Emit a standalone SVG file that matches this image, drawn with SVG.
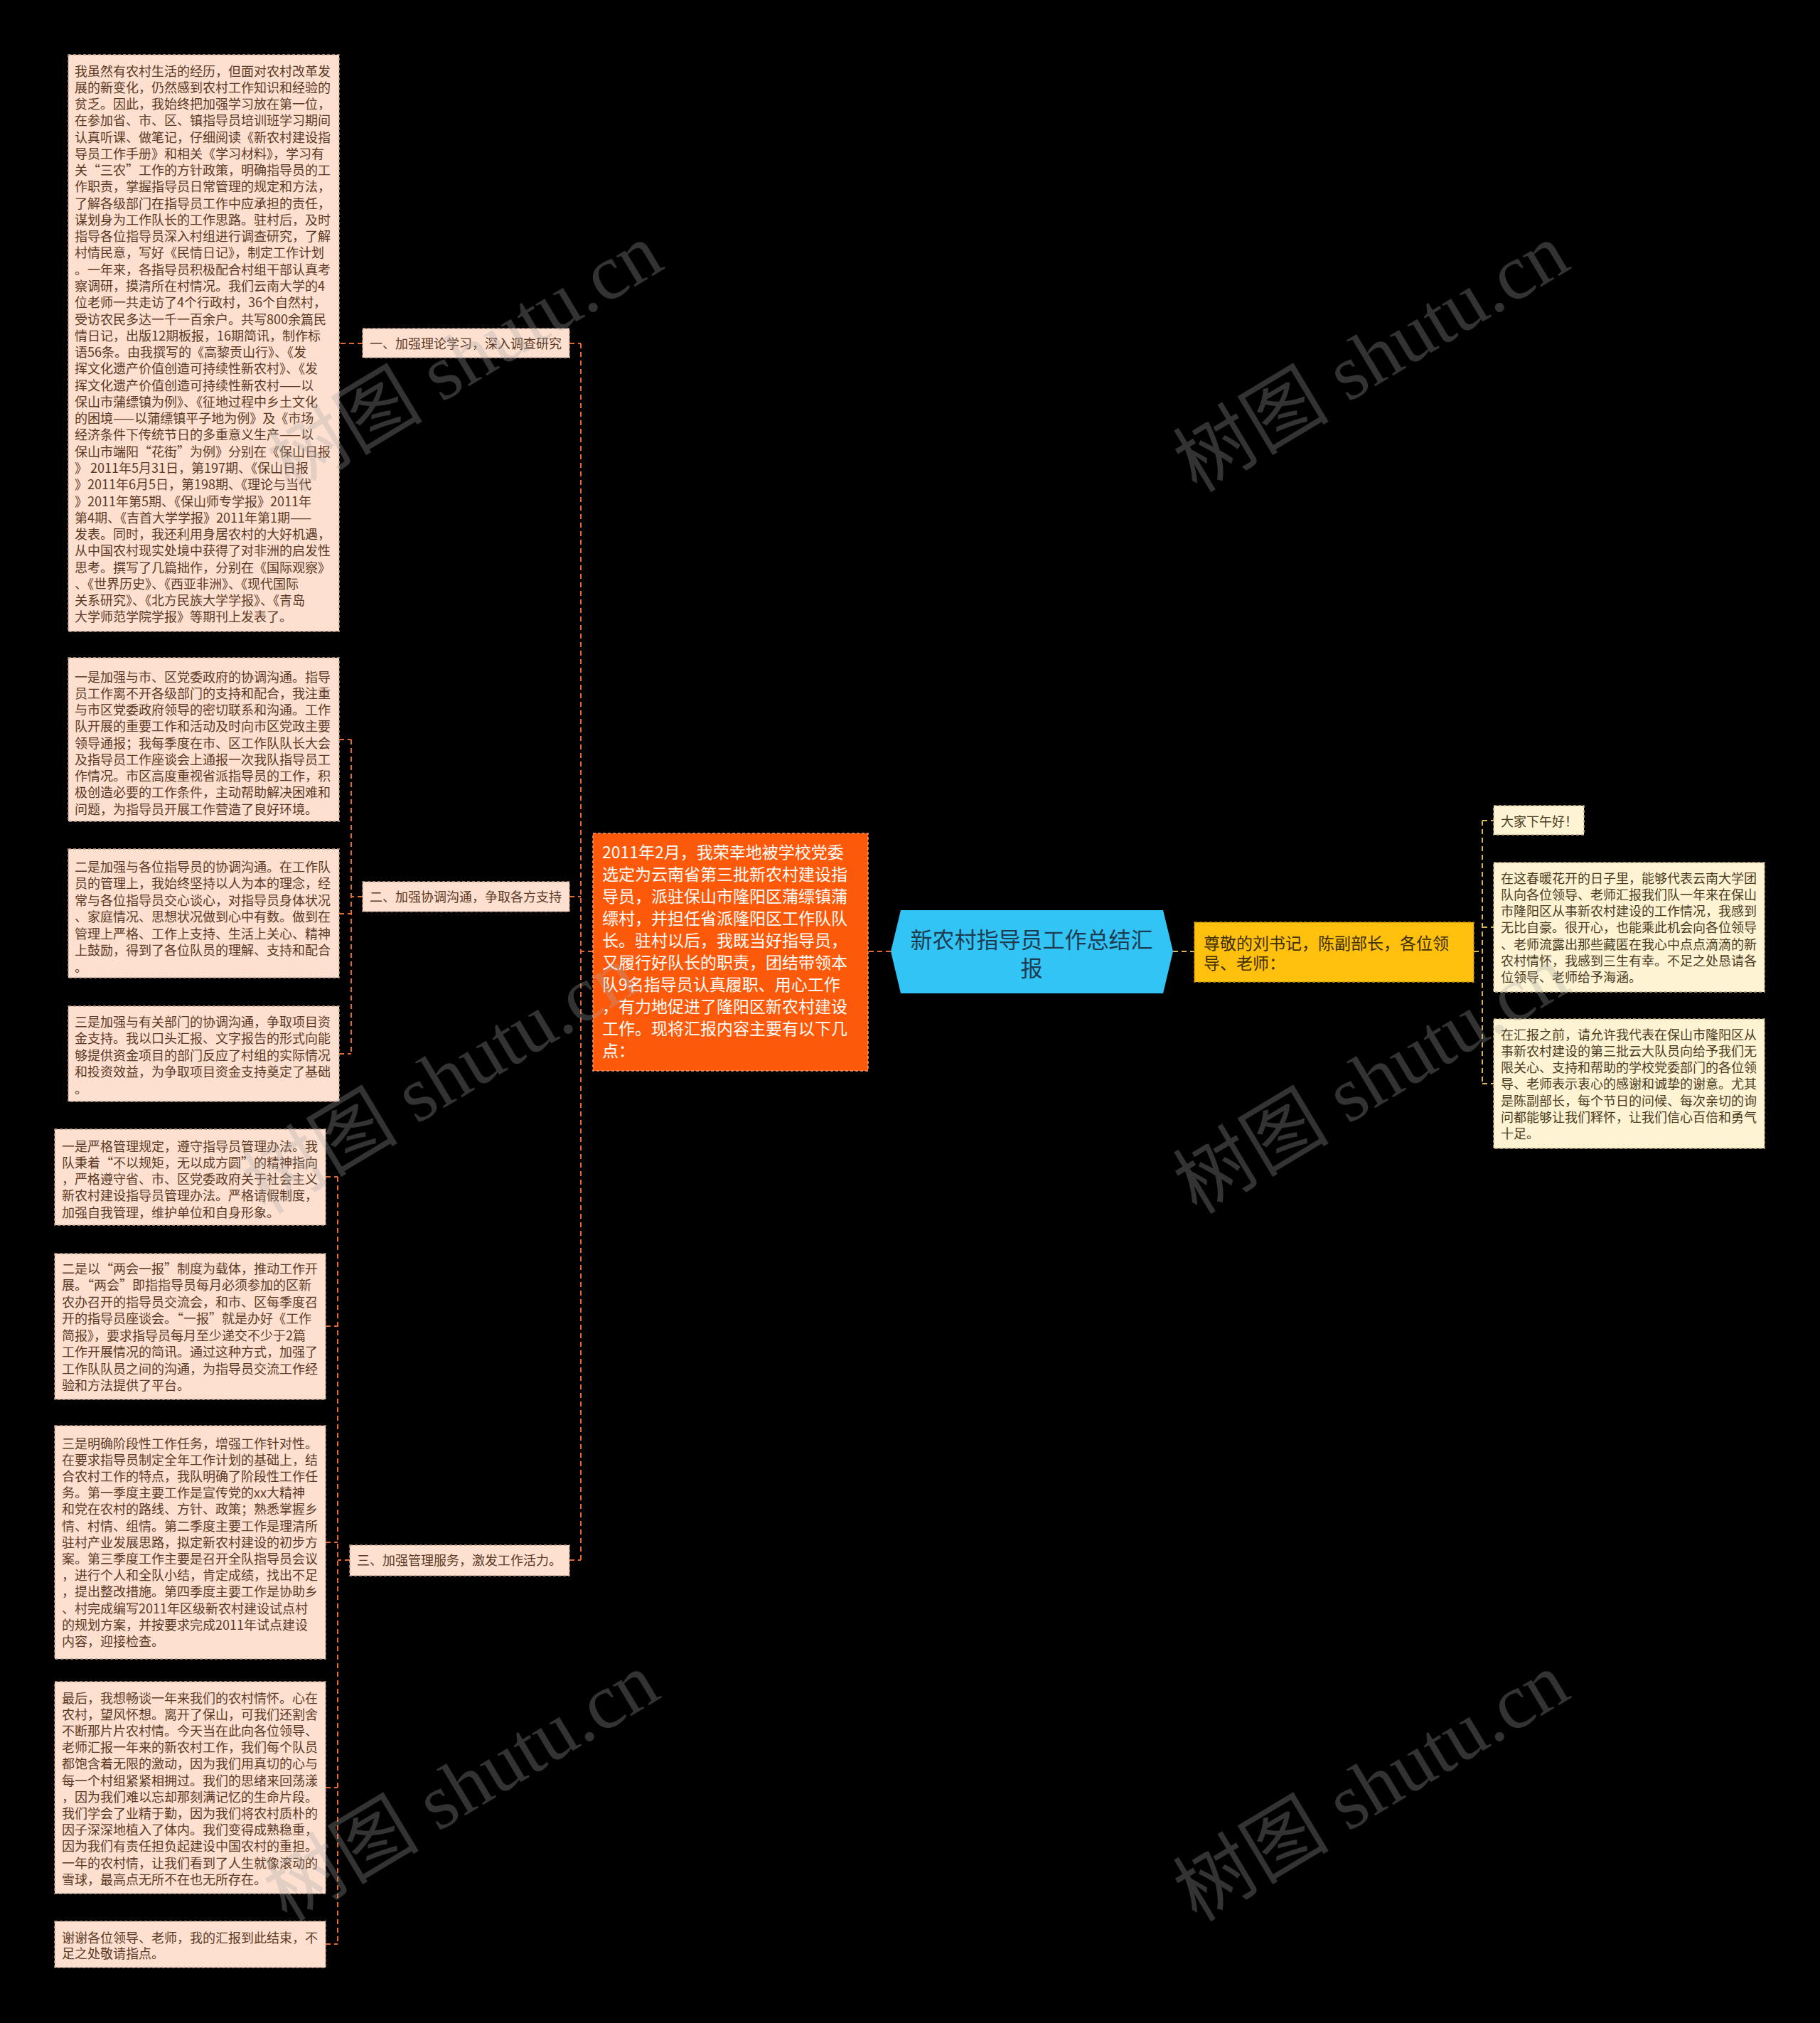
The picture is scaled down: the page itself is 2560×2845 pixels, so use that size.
<svg xmlns="http://www.w3.org/2000/svg" width="2560" height="2845" viewBox="0 0 2560 2845">
<style>
.bg{fill:#000}
.bl{fill:#FDE0CF;stroke:#C4A190;stroke-width:1.5;stroke-dasharray:4 3}
.br{fill:#FEF3D3;stroke:#C8B184;stroke-width:1.5;stroke-dasharray:4 3}
.t{font-family:"Noto Sans CJK SC","Noto Sans",sans-serif;font-size:18px;fill:#5C3A26}
.tr{font-family:"Noto Sans CJK SC","Noto Sans",sans-serif;font-size:18px;fill:#4A3B22}
.cl{fill:none;stroke:#E8692F;stroke-width:2;stroke-dasharray:7 5}
.cr{fill:none;stroke:#D6B65A;stroke-width:2;stroke-dasharray:7 5}
.wm{font-family:"Liberation Serif","Noto Sans CJK SC",serif;font-size:110px;fill:#A8A8A8;opacity:0.3}
</style>
<rect class="bg" x="0" y="0" width="2560" height="2845"/>

<g id="connectors">
  <!-- center to orange -->
  <path class="cl" d="M1253,1338 H1221"/>
  <!-- left trunk -->
  <path class="cl" d="M834,1338 H817 M817,483 V2194 M801,483 H817 M801,1261 H817 M801,2194 H817"/>
  <!-- label 1 to block 1 -->
  <path class="cl" d="M510,483 H477"/>
  <!-- label 2 group -->
  <path class="cl" d="M510,1261 H494 M494,1040 V1482 M477,1040 H494 M477,1285 H494 M477,1482 H494"/>
  <!-- label 3 group -->
  <path class="cl" d="M492,2194 H475 M475,1655 V2734 M458,1655 H475 M458,1865 H475 M458,2169 H475 M458,2514 H475 M458,2734 H475"/>
  <!-- right side -->
  <path class="cr" d="M1650,1338 H1680"/>
  <path class="cr" d="M2073,1338 H2085 M2085,1154 V1524 M2085,1154 H2101 M2085,1304 H2101 M2085,1524 H2101"/>
</g>

<g id="center">
  <polygon points="1253,1338 1267,1280 1636,1280 1650,1338 1636,1397 1267,1397" fill="#31C4F4"/>
  <text x="1451" y="1333" text-anchor="middle" font-family="'Noto Sans CJK SC','Noto Sans',sans-serif" font-size="31" fill="#1E3B4F">新农村指导员工作总结汇</text>
  <text x="1451" y="1373" text-anchor="middle" font-family="'Noto Sans CJK SC','Noto Sans',sans-serif" font-size="31" fill="#1E3B4F">报</text>
</g>

<g id="intro">
  <rect x="834" y="1172" width="387" height="334" fill="#FC5A0A" stroke="#FF9C66" stroke-width="1.5" stroke-dasharray="4 3"/>
  <text font-family="'Noto Sans CJK SC','Noto Sans',sans-serif" font-size="23" fill="#FFFFFF">
    <tspan x="847" y="1207">2011年2月，我荣幸地被学校党委</tspan>
    <tspan x="847" dy="31">选定为云南省第三批新农村建设指</tspan>
    <tspan x="847" dy="31">导员，派驻保山市隆阳区蒲缥镇蒲</tspan>
    <tspan x="847" dy="31">缥村，并担任省派隆阳区工作队队</tspan>
    <tspan x="847" dy="31">长。驻村以后，我既当好指导员，</tspan>
    <tspan x="847" dy="31">又履行好队长的职责，团结带领本</tspan>
    <tspan x="847" dy="31">队9名指导员认真履职、用心工作</tspan>
    <tspan x="847" dy="31">，有力地促进了隆阳区新农村建设</tspan>
    <tspan x="847" dy="31">工作。现将汇报内容主要有以下几</tspan>
    <tspan x="847" dy="31">点：</tspan>
  </text>
</g>

<g id="greeting-main">
  <rect x="1680" y="1297" width="393" height="84" fill="#FFC10E" stroke="#C99500" stroke-width="1.5" stroke-dasharray="4 3"/>
  <text font-family="'Noto Sans CJK SC','Noto Sans',sans-serif" font-size="23" fill="#3D2E05">
    <tspan x="1693" y="1335">尊敬的刘书记，陈副部长，各位领</tspan>
    <tspan x="1693" dy="28">导、老师：</tspan>
  </text>
</g>

<g id="label1">
  <rect class="bl" x="510" y="462" width="291" height="41"/>
  <text class="t" x="520" y="489.5">一、加强理论学习，深入调查研究</text>
</g>
<g id="label2">
  <rect class="bl" x="510" y="1240" width="291" height="42"/>
  <text class="t" x="520" y="1267.5">二、加强协调沟通，争取各方支持</text>
</g>
<g id="label3">
  <rect class="bl" x="492" y="2173" width="309" height="43"/>
  <text class="t" x="502" y="2200.5">三、加强管理服务，激发工作活力。</text>
</g>

<g id="block1">
  <rect class="bl" x="96" y="77" width="381" height="811"/>
  <text class="t">
    <tspan x="105" y="106.5">我虽然有农村生活的经历，但面对农村改革发</tspan>
    <tspan x="105" dy="23.27">展的新变化，仍然感到农村工作知识和经验的</tspan>
    <tspan x="105" dy="23.27">贫乏。因此，我始终把加强学习放在第一位，</tspan>
    <tspan x="105" dy="23.27">在参加省、市、区、镇指导员培训班学习期间</tspan>
    <tspan x="105" dy="23.27">认真听课、做笔记，仔细阅读《新农村建设指</tspan>
    <tspan x="105" dy="23.27">导员工作手册》和相关《学习材料》，学习有</tspan>
    <tspan x="105" dy="23.27">关“三农”工作的方针政策，明确指导员的工</tspan>
    <tspan x="105" dy="23.27">作职责，掌握指导员日常管理的规定和方法，</tspan>
    <tspan x="105" dy="23.27">了解各级部门在指导员工作中应承担的责任，</tspan>
    <tspan x="105" dy="23.27">谋划身为工作队长的工作思路。驻村后，及时</tspan>
    <tspan x="105" dy="23.27">指导各位指导员深入村组进行调查研究，了解</tspan>
    <tspan x="105" dy="23.27">村情民意，写好《民情日记》，制定工作计划</tspan>
    <tspan x="105" dy="23.27">。一年来，各指导员积极配合村组干部认真考</tspan>
    <tspan x="105" dy="23.27">察调研，摸清所在村情况。我们云南大学的4</tspan>
    <tspan x="105" dy="23.27">位老师一共走访了4个行政村，36个自然村，</tspan>
    <tspan x="105" dy="23.27">受访农民多达一千一百余户。共写800余篇民</tspan>
    <tspan x="105" dy="23.27">情日记，出版12期板报，16期简讯，制作标</tspan>
    <tspan x="105" dy="23.27">语56条。由我撰写的《高黎贡山行》、《发</tspan>
    <tspan x="105" dy="23.27">挥文化遗产价值创造可持续性新农村》、《发</tspan>
    <tspan x="105" dy="23.27">挥文化遗产价值创造可持续性新农村——以</tspan>
    <tspan x="105" dy="23.27">保山市蒲缥镇为例》、《征地过程中乡土文化</tspan>
    <tspan x="105" dy="23.27">的困境——以蒲缥镇平子地为例》及《市场</tspan>
    <tspan x="105" dy="23.27">经济条件下传统节日的多重意义生产——以</tspan>
    <tspan x="105" dy="23.27">保山市端阳“花街”为例》分别在《保山日报</tspan>
    <tspan x="105" dy="23.27">》 2011年5月31日，第197期、《保山日报</tspan>
    <tspan x="105" dy="23.27">》2011年6月5日，第198期、《理论与当代</tspan>
    <tspan x="105" dy="23.27">》2011年第5期、《保山师专学报》2011年</tspan>
    <tspan x="105" dy="23.27">第4期、《吉首大学学报》2011年第1期——</tspan>
    <tspan x="105" dy="23.27">发表。同时，我还利用身居农村的大好机遇，</tspan>
    <tspan x="105" dy="23.27">从中国农村现实处境中获得了对非洲的启发性</tspan>
    <tspan x="105" dy="23.27">思考。撰写了几篇拙作，分别在《国际观察》</tspan>
    <tspan x="105" dy="23.27">、《世界历史》、《西亚非洲》、《现代国际</tspan>
    <tspan x="105" dy="23.27">关系研究》、《北方民族大学学报》、《青岛</tspan>
    <tspan x="105" dy="23.27">大学师范学院学报》等期刊上发表了。</tspan>
  </text>
</g>

<g id="block2">
  <rect class="bl" x="96" y="925" width="381" height="230"/>
  <text class="t">
    <tspan x="105" y="958.5">一是加强与市、区党委政府的协调沟通。指导</tspan>
    <tspan x="105" dy="23.25">员工作离不开各级部门的支持和配合，我注重</tspan>
    <tspan x="105" dy="23.25">与市区党委政府领导的密切联系和沟通。工作</tspan>
    <tspan x="105" dy="23.25">队开展的重要工作和活动及时向市区党政主要</tspan>
    <tspan x="105" dy="23.25">领导通报；我每季度在市、区工作队队长大会</tspan>
    <tspan x="105" dy="23.25">及指导员工作座谈会上通报一次我队指导员工</tspan>
    <tspan x="105" dy="23.25">作情况。市区高度重视省派指导员的工作，积</tspan>
    <tspan x="105" dy="23.25">极创造必要的工作条件，主动帮助解决困难和</tspan>
    <tspan x="105" dy="23.25">问题，为指导员开展工作营造了良好环境。</tspan>
  </text>
</g>

<g id="block3">
  <rect class="bl" x="96" y="1194" width="381" height="181"/>
  <text class="t">
    <tspan x="105" y="1225.5">二是加强与各位指导员的协调沟通。在工作队</tspan>
    <tspan x="105" dy="23.5">员的管理上，我始终坚持以人为本的理念，经</tspan>
    <tspan x="105" dy="23.5">常与各位指导员交心谈心，对指导员身体状况</tspan>
    <tspan x="105" dy="23.5">、家庭情况、思想状况做到心中有数。做到在</tspan>
    <tspan x="105" dy="23.5">管理上严格、工作上支持、生活上关心、精神</tspan>
    <tspan x="105" dy="23.5">上鼓励，得到了各位队员的理解、支持和配合</tspan>
    <tspan x="105" dy="23.5">。</tspan>
  </text>
</g>

<g id="block4">
  <rect class="bl" x="96" y="1415" width="381" height="134"/>
  <text class="t">
    <tspan x="105" y="1443.5">三是加强与有关部门的协调沟通，争取项目资</tspan>
    <tspan x="105" dy="23.5">金支持。我以口头汇报、文字报告的形式向能</tspan>
    <tspan x="105" dy="23.5">够提供资金项目的部门反应了村组的实际情况</tspan>
    <tspan x="105" dy="23.5">和投资效益，为争取项目资金支持奠定了基础</tspan>
    <tspan x="105" dy="23.5">。</tspan>
  </text>
</g>

<g id="block5">
  <rect class="bl" x="77" y="1588" width="381" height="135"/>
  <text class="t">
    <tspan x="87" y="1618.5">一是严格管理规定，遵守指导员管理办法。我</tspan>
    <tspan x="87" dy="23.3">队秉着“不以规矩，无以成方圆”的精神指向</tspan>
    <tspan x="87" dy="23.3">，严格遵守省、市、区党委政府关于社会主义</tspan>
    <tspan x="87" dy="23.3">新农村建设指导员管理办法。严格请假制度，</tspan>
    <tspan x="87" dy="23.3">加强自我管理，维护单位和自身形象。</tspan>
  </text>
</g>

<g id="block6">
  <rect class="bl" x="77" y="1763" width="381" height="205"/>
  <text class="t">
    <tspan x="87" y="1790.5">二是以“两会一报”制度为载体，推动工作开</tspan>
    <tspan x="87" dy="23.5">展。“两会”即指指导员每月必须参加的区新</tspan>
    <tspan x="87" dy="23.5">农办召开的指导员交流会，和市、区每季度召</tspan>
    <tspan x="87" dy="23.5">开的指导员座谈会。“一报”就是办好《工作</tspan>
    <tspan x="87" dy="23.5">简报》，要求指导员每月至少递交不少于2篇</tspan>
    <tspan x="87" dy="23.5">工作开展情况的简讯。通过这种方式，加强了</tspan>
    <tspan x="87" dy="23.5">工作队队员之间的沟通，为指导员交流工作经</tspan>
    <tspan x="87" dy="23.5">验和方法提供了平台。</tspan>
  </text>
</g>

<g id="block7">
  <rect class="bl" x="77" y="2005" width="381" height="328"/>
  <text class="t">
    <tspan x="87" y="2036.5">三是明确阶段性工作任务，增强工作针对性。</tspan>
    <tspan x="87" dy="23.2">在要求指导员制定全年工作计划的基础上，结</tspan>
    <tspan x="87" dy="23.2">合农村工作的特点，我队明确了阶段性工作任</tspan>
    <tspan x="87" dy="23.2">务。第一季度主要工作是宣传党的xx大精神</tspan>
    <tspan x="87" dy="23.2">和党在农村的路线、方针、政策；熟悉掌握乡</tspan>
    <tspan x="87" dy="23.2">情、村情、组情。第二季度主要工作是理清所</tspan>
    <tspan x="87" dy="23.2">驻村产业发展思路，拟定新农村建设的初步方</tspan>
    <tspan x="87" dy="23.2">案。第三季度工作主要是召开全队指导员会议</tspan>
    <tspan x="87" dy="23.2">，进行个人和全队小结，肯定成绩，找出不足</tspan>
    <tspan x="87" dy="23.2">，提出整改措施。第四季度主要工作是协助乡</tspan>
    <tspan x="87" dy="23.2">、村完成编写2011年区级新农村建设试点村</tspan>
    <tspan x="87" dy="23.2">的规划方案，并按要求完成2011年试点建设</tspan>
    <tspan x="87" dy="23.2">内容，迎接检查。</tspan>
  </text>
</g>

<g id="block8">
  <rect class="bl" x="77" y="2365" width="381" height="298"/>
  <text class="t">
    <tspan x="87" y="2394.5">最后，我想畅谈一年来我们的农村情怀。心在</tspan>
    <tspan x="87" dy="23.2">农村，望风怀想。离开了保山，可我们还割舍</tspan>
    <tspan x="87" dy="23.2">不断那片片农村情。今天当在此向各位领导、</tspan>
    <tspan x="87" dy="23.2">老师汇报一年来的新农村工作，我们每个队员</tspan>
    <tspan x="87" dy="23.2">都饱含着无限的激动，因为我们用真切的心与</tspan>
    <tspan x="87" dy="23.2">每一个村组紧紧相拥过。我们的思绪来回荡漾</tspan>
    <tspan x="87" dy="23.2">，因为我们难以忘却那刻满记忆的生命片段。</tspan>
    <tspan x="87" dy="23.2">我们学会了业精于勤，因为我们将农村质朴的</tspan>
    <tspan x="87" dy="23.2">因子深深地植入了体内。我们变得成熟稳重，</tspan>
    <tspan x="87" dy="23.2">因为我们有责任担负起建设中国农村的重担。</tspan>
    <tspan x="87" dy="23.2">一年的农村情，让我们看到了人生就像滚动的</tspan>
    <tspan x="87" dy="23.2">雪球，最高点无所不在也无所存在。</tspan>
  </text>
</g>

<g id="block9">
  <rect class="bl" x="77" y="2702" width="381" height="65"/>
  <text class="t">
    <tspan x="87" y="2731.5">谢谢各位领导、老师，我的汇报到此结束，不</tspan>
    <tspan x="87" dy="22.5">足之处敬请指点。</tspan>
  </text>
</g>

<g id="right1">
  <rect class="br" x="2101" y="1133" width="127" height="41"/>
  <text class="tr" x="2111" y="1161.5">大家下午好！</text>
</g>

<g id="right2">
  <rect class="br" x="2101" y="1213" width="381" height="182"/>
  <text class="tr">
    <tspan x="2111" y="1241.5">在这春暖花开的日子里，能够代表云南大学团</tspan>
    <tspan x="2111" dy="23.3">队向各位领导、老师汇报我们队一年来在保山</tspan>
    <tspan x="2111" dy="23.3">市隆阳区从事新农村建设的工作情况，我感到</tspan>
    <tspan x="2111" dy="23.3">无比自豪。很开心，也能乘此机会向各位领导</tspan>
    <tspan x="2111" dy="23.3">、老师流露出那些藏匿在我心中点点滴滴的新</tspan>
    <tspan x="2111" dy="23.3">农村情怀，我感到三生有幸。不足之处恳请各</tspan>
    <tspan x="2111" dy="23.3">位领导、老师给予海涵。</tspan>
  </text>
</g>

<g id="right3">
  <rect class="br" x="2101" y="1433" width="381" height="182"/>
  <text class="tr">
    <tspan x="2111" y="1461.5">在汇报之前，请允许我代表在保山市隆阳区从</tspan>
    <tspan x="2111" dy="23.3">事新农村建设的第三批云大队员向给予我们无</tspan>
    <tspan x="2111" dy="23.3">限关心、支持和帮助的学校党委部门的各位领</tspan>
    <tspan x="2111" dy="23.3">导、老师表示衷心的感谢和诚挚的谢意。尤其</tspan>
    <tspan x="2111" dy="23.3">是陈副部长，每个节日的问候、每次亲切的询</tspan>
    <tspan x="2111" dy="23.3">问都能够让我们释怀，让我们信心百倍和勇气</tspan>
    <tspan x="2111" dy="23.3">十足。</tspan>
  </text>
</g>

<g id="watermarks">
  <text class="wm" x="655" y="540" text-anchor="middle" transform="rotate(-31 655 505)">树图 shutu.cn</text>
  <text class="wm" x="1930" y="540" text-anchor="middle" transform="rotate(-31 1930 505)">树图 shutu.cn</text>
  <text class="wm" x="620" y="1555" text-anchor="middle" transform="rotate(-31 620 1520)">树图 shutu.cn</text>
  <text class="wm" x="1930" y="1555" text-anchor="middle" transform="rotate(-31 1930 1520)">树图 shutu.cn</text>
  <text class="wm" x="650" y="2550" text-anchor="middle" transform="rotate(-31 650 2515)">树图 shutu.cn</text>
  <text class="wm" x="1930" y="2550" text-anchor="middle" transform="rotate(-31 1930 2515)">树图 shutu.cn</text>
</g>
</svg>
